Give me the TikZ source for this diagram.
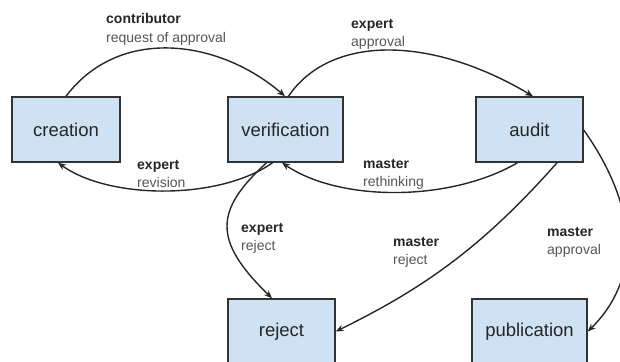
\documentclass[tikz,border=0pt]{standalone}
\usepackage{fontspec}
\setmainfont{Liberation Sans}
\usetikzlibrary{arrows.meta}
\definecolor{boxfill}{HTML}{CFE2F3}
\definecolor{boxline}{HTML}{333333}
\definecolor{lblgray}{HTML}{555555}
\tikzset{
  statebox/.style={draw=boxline, line width=1.5pt, fill=boxfill, minimum height=65pt, inner sep=0pt,
    font=\fontsize{18.5}{22}\selectfont, text=black!85},
  flow/.style={line width=1.4pt, draw=black!85, -{Stealth[length=8pt,width=6.5pt]}},
  edgelbl/.style={anchor=base west, inner sep=0pt, align=left, font=\fontsize{14}{18}\selectfont},
}
\newcommand{\lbl}[2]{\textbf{\color{black!85}#1}\\{\color{lblgray}#2}}
\begin{document}
\begin{tikzpicture}[x=1pt,y=-1pt]
\useasboundingbox (0,0) rectangle (620,361);
% boxes
\node[statebox, minimum width=108pt] (creation) at (66,129.5) {creation};
\node[statebox, minimum width=115pt] (verification) at (285.5,129.5) {verification};
\node[statebox, minimum width=107pt] (audit) at (529.5,129.5) {audit};
\node[statebox, minimum width=107pt] (reject) at (281.5,331.5) {reject};
\node[statebox, minimum width=115pt] (publication) at (529.5,331.5) {publication};
% connectors
\draw[flow] (creation.north) .. controls (120,25) and (220,40) .. ([xshift=-0.5pt]verification.north);
\draw[flow] ([xshift=3pt]verification.north) .. controls (330,35) and (430,35) .. ([xshift=3.5pt]audit.north);
\draw[flow] ([xshift=-13pt]verification.south) .. controls (220,200) and (110,200) .. ([xshift=-8pt]creation.south);
\draw[flow] ([xshift=-12pt]audit.south) .. controls (450,202) and (340,202) .. ([xshift=-3.5pt]verification.south);
\draw[flow] ([xshift=-19pt]verification.south) .. controls (215,210) and (212,240) .. ([xshift=-9.5pt]reject.north);
\draw[flow] ([xshift=27.5pt]audit.south) .. controls (480,250) and (420,290) .. (reject.east);
\draw[flow] ([yshift=-0.5pt]audit.east) .. controls (640,210) and (640,280) .. (publication.east);
% labels
\node[edgelbl] (l1) at (106,42) {\lbl{contributor}{request of approval}};
\node[edgelbl] (l2) at (351,47) {\lbl{expert}{approval}};
\node[edgelbl] (l3) at (137,187) {\lbl{expert}{revision}};
\node[edgelbl] (l4) at (363,186) {\lbl{master}{rethinking}};
\node[edgelbl] (l5) at (241,250) {\lbl{expert}{reject}};
\node[edgelbl] (l6) at (393,264) {\lbl{master}{reject}};
\node[edgelbl] (l7) at (547,254) {\lbl{master}{approval}};
\end{tikzpicture}
\end{document}
